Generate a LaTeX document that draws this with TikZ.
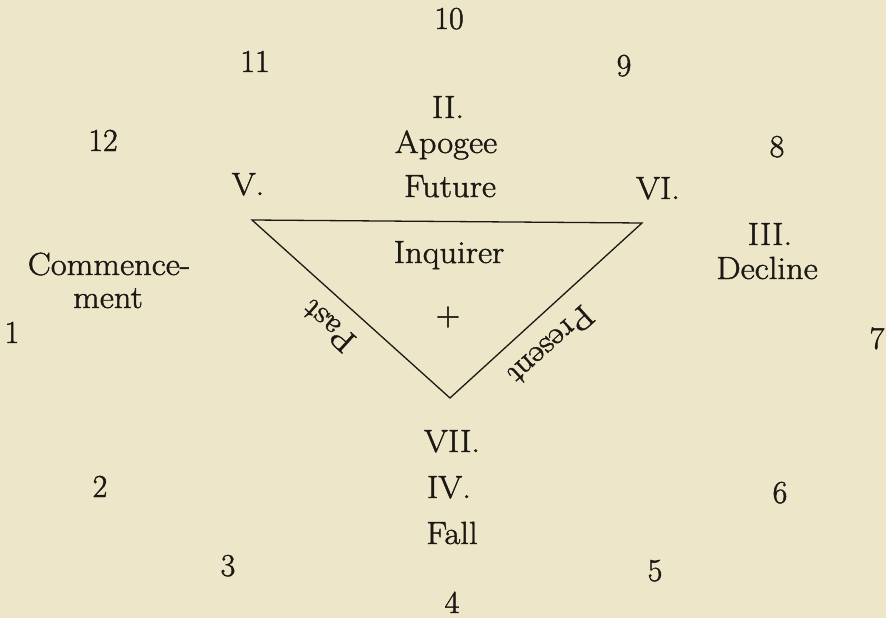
\documentclass[tikz,border=0pt]{standalone}
\usepackage{fontspec}
\newfontfamily\wordfont{Latin Modern Roman}[FakeStretch=1.08,FakeBold=1.4]
\newfontfamily\digitfont{Latin Modern Roman}[FakeBold=1.4]
\definecolor{paper}{RGB}{237,230,201}
\definecolor{ink}{RGB}{28,25,20}
\begin{document}
\begin{tikzpicture}[x=1pt,y=-1pt,
  lbl/.style={anchor=base,inner sep=0pt,text=ink,font=\wordfont\fontsize{32}{38}\selectfont},
  num/.style={anchor=base,inner sep=0pt,text=ink,font=\digitfont\fontsize{32}{38}\selectfont},
  side/.style={anchor=center,inner sep=0pt,text=ink,font=\wordfont\fontsize{32}{38}\selectfont},
  edge/.style={draw=ink,line width=1.3pt,line join=miter}]
\fill[paper] (0,0) rectangle (886,618);
\useasboundingbox (0,0) rectangle (886,618);
% clock numbers
\node[num] (n10) at (449,29) {10};
\node[num] (n11) at (255,72) {11};
\node[num] (n9)  at (624,76) {9};
\node[num] (n12) at (103,151) {12};
\node[num] (n8)  at (777,157) {8};
\node[num] (n1)  at (12,343) {1};
\node[num] (n7)  at (877,349) {7};
\node[num] (n2)  at (100,497) {2};
\node[num] (n6)  at (780,503) {6};
\node[num] (n3)  at (228,576) {3};
\node[num] (n5)  at (655,581) {5};
\node[num] (n4)  at (452,613) {4};
% labels
\node[lbl] (II)  at (448,118) {II.};
\node[lbl] (apo) at (446,153) {Apogee};
\node[lbl] (fut) at (450,197) {Future};
\node[lbl] (V)   at (248,195) {V.};
\node[lbl] (VI)  at (658,199) {VI.};
\node[lbl] (inq) at (449,263) {Inquirer};
\node[lbl] (III) at (770,245) {III.};
\node[lbl] (dec) at (767,279) {Decline};
\node[lbl] (com) at (109,275) {Commence-};
\node[lbl] (men) at (108,308) {ment};
\node[lbl] (VII) at (452,452) {VII.};
\node[lbl] (IV)  at (449,498) {IV.};
\node[lbl] (fal) at (452,544) {Fall};
\node[anchor=center,inner sep=0pt,text=ink,font=\digitfont\fontsize{34}{40}\selectfont] (plus) at (448,317) {+};
% triangle
\coordinate (tl) at (252,220);
\coordinate (tr) at (642,223);
\coordinate (bt) at (450,398);
\draw[edge] (tl) -- (tr) -- (bt) -- cycle;
% side labels
\node[side,rotate=138] (past) at (328,326) {Past};
\node[side,rotate=222] (pres) at (551,346) {Present};
\end{tikzpicture}
\end{document}
